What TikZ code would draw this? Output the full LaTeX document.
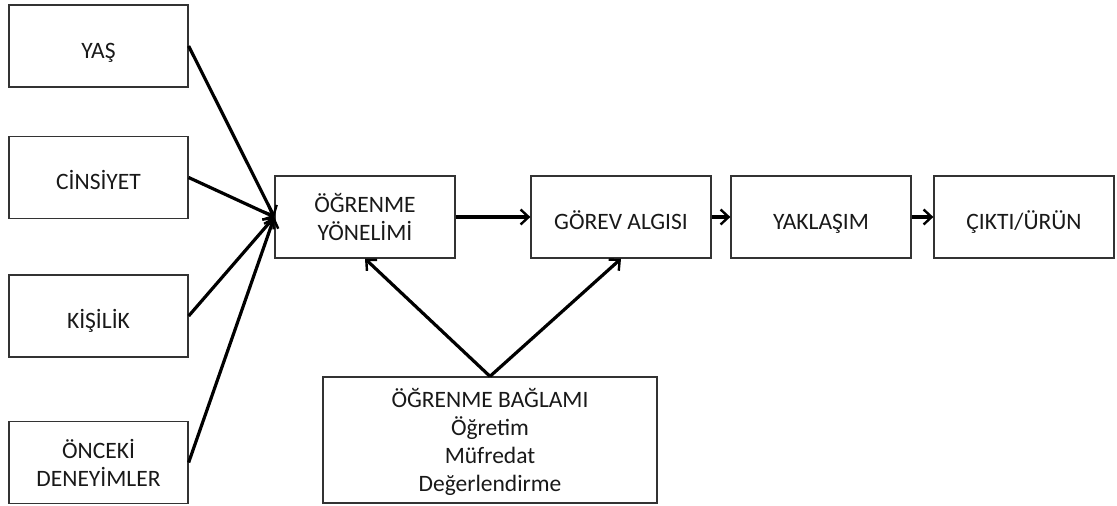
\documentclass[tikz,border=0pt]{standalone}
\usepackage{fontspec}
\setmainfont{Carlito}
\usetikzlibrary{arrows.meta}
\begin{document}
\begin{tikzpicture}[x=1pt,y=-1pt,>={Straight Barb[length=8pt,width=15pt,line width=2.4pt]},
	kutu/.style={draw=black!80,line width=1.3pt,fill=white,align=center,inner sep=0pt,
		font=\fontsize{23.5}{28}\selectfont,text=black!90},
	tek/.style={text height=28pt,text depth=4pt},
	sol/.style={kutu,minimum width=179pt,minimum height=82pt},
	orta/.style={kutu,minimum width=180pt,minimum height=82pt},
	ok/.style={->,line width=3.2pt}]
			\useasboundingbox (0,0) rectangle (1117,506);
			\node[sol,tek] (yas) at (98.5,46) {YAŞ};
			\node[sol,tek] (cinsiyet) at (98.5,177.5) {CİNSİYET};
			\node[sol,tek] (kisilik) at (98.5,316) {KİŞİLİK};
			\node[sol,text depth=-12pt] (onceki) at (98.5,462.5) {ÖNCEKİ\\DENEYİMLER};
			\node[orta,text depth=-6pt] (yonelim) at (365,217) {ÖĞRENME\\YÖNELİMİ};
			\node[orta,tek] (gorev) at (621,217) {GÖREV ALGISI};
			\node[orta,tek] (yaklasim) at (821,217) {YAKLAŞIM};
			\node[orta,tek] (cikti) at (1024,217) {ÇIKTI/ÜRÜN};
			\node[kutu,minimum width=334pt,minimum height=126pt,text depth=-3pt] (baglam) at (490,440)
				{ÖĞRENME BAĞLAMI\\Öğretim\\Müfredat\\Değerlendirme};
			\foreach \k in {yas,cinsiyet,kisilik,onceki}
			\draw[ok] (\k.east) -- (yonelim.west);
			\draw[ok] (yonelim) -- (gorev);
			\draw[ok] (gorev) -- (yaklasim);
			\draw[ok] (yaklasim) -- (cikti);
			\draw[ok] (baglam.north) -- (yonelim.south);
			\draw[ok] (baglam.north) -- (gorev.south);
	\end{tikzpicture}
\end{document}
